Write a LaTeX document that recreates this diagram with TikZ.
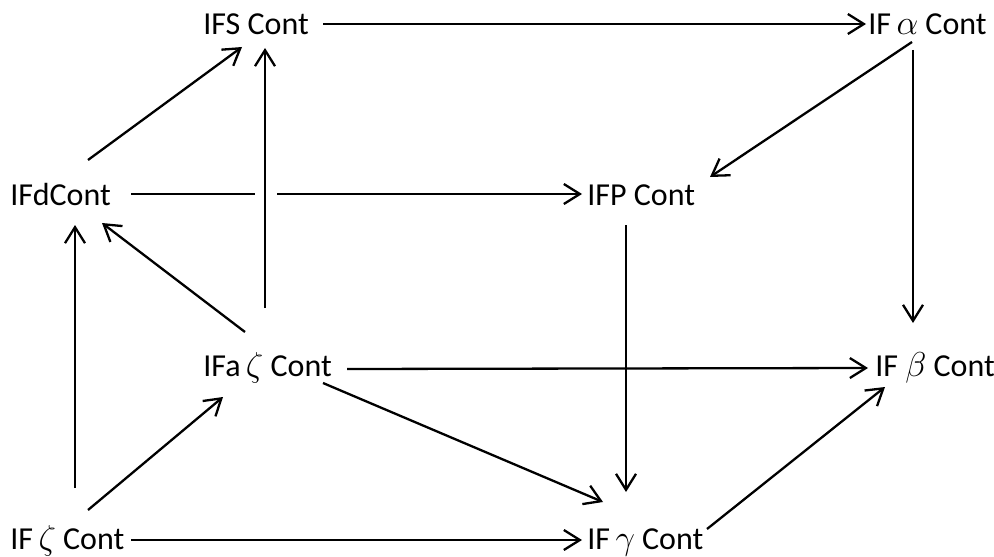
\documentclass[tikz,border=0pt]{standalone}
\usepackage{fontspec}
\setmainfont{Carlito}
\usetikzlibrary{calc,arrows.meta}
\tikzset{
  lbl/.style={inner sep=0pt, anchor=base west, font=\fontsize{16}{19}\selectfont},
  arr/.style={line width=1.15pt, -{Straight Barb[length=8pt,width=10pt,line width=1.15pt]}},
  ln/.style={line width=1.15pt}
}
\begin{document}
\begin{tikzpicture}[x=0.5pt,y=-0.5pt]
\useasboundingbox (0,0) rectangle (994,556);
\node[lbl] (S) at (203,35) {IFS Cont};
\node[lbl] (A) at (868,35) {IF\,$\alpha$ Cont};
\node[lbl] (D) at (10,205) {IFdCont};
\node[lbl] (P) at (587,205) {IFP Cont};
\node[lbl] (Z) at (203,376) {IFa\,$\zeta$ Cont};
\node[lbl] (B) at (875,376) {IF $\beta$ Cont};
\node[lbl] (W) at (10,549) {IF\,$\zeta$ Cont};
\node[lbl] (G) at (587,549) {IF\,$\gamma$ Cont};
% top row
\draw[arr] ($(S.base west)+(120,-11)$) -- ($(A.base west)+(-2,-11)$);
\draw[arr] ($(A.base west)+(44,7)$) -- ($(P.base west)+(123,-28)$);
\draw[arr] ($(A.base west)+(45,15)$) -- ($(B.base west)+(38,-53)$);
% IFdCont
\draw[arr] ($(D.base west)+(78,-45)$) -- ($(S.base west)+(39,12)$);
\draw[ln] ($(D.base west)+(121,-11)$) -- ($(D.base west)+(245,-11)$);
\draw[arr] ($(D.base west)+(267,-11)$) -- ($(P.base west)+(-5,-11)$);
% IFa zeta
\draw[arr] ($(Z.base west)+(62,-68)$) -- ($(S.base west)+(62,13)$);
\draw[arr] ($(Z.base west)+(42,-44)$) -- ($(D.base west)+(92,18)$);
\draw[arr] ($(Z.base west)+(144,-7)$) -- ($(B.base west)+(-7,-8)$);
\draw[arr] ($(Z.base west)+(120,7)$) -- ($(G.base west)+(16,-47)$);
% IF zeta
\draw[arr] ($(W.base west)+(65,-61)$) -- ($(D.base west)+(65,20)$);
\draw[arr] ($(W.base west)+(78,-39)$) -- ($(Z.base west)+(20,21)$);
\draw[arr] ($(W.base west)+(121,-9)$) -- ($(G.base west)+(-5,-9)$);
% IFP, IF gamma
\draw[arr] ($(P.base west)+(39,20)$) -- ($(G.base west)+(39,-57)$);
\draw[arr] ($(G.base west)+(120,-20)$) -- ($(B.base west)+(10,11)$);
\end{tikzpicture}
\end{document}
